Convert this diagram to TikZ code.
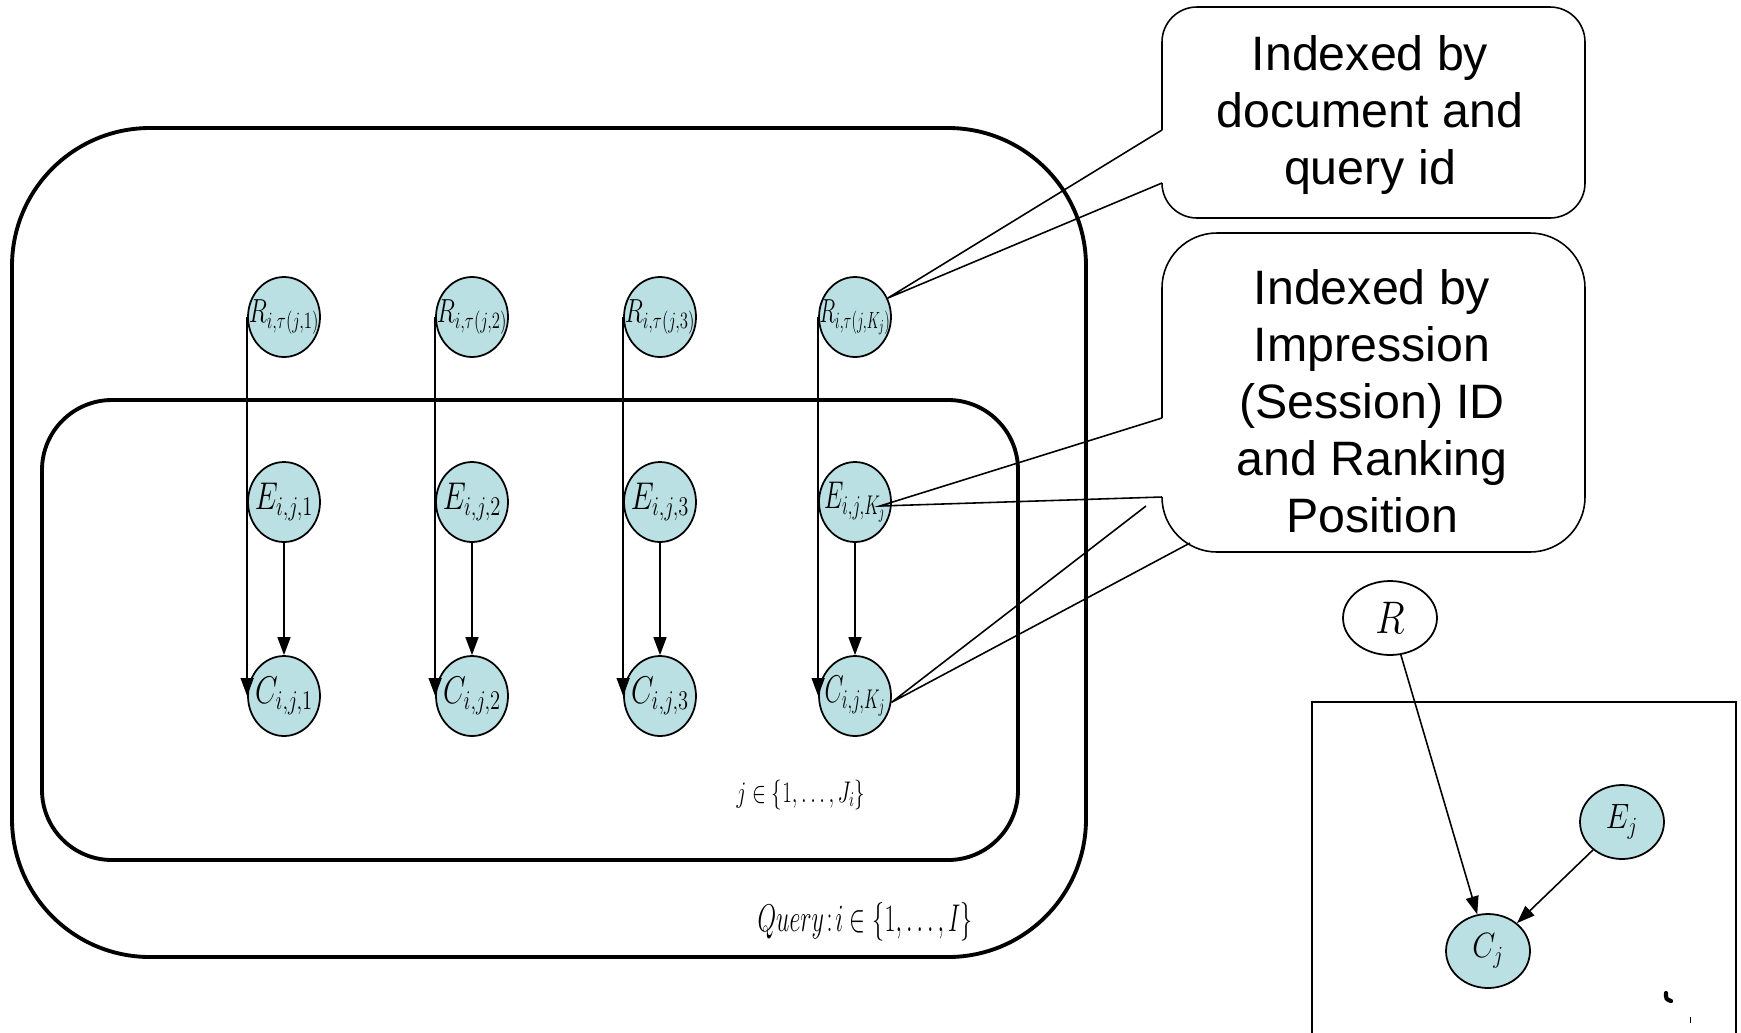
\RequirePackage{fix-cm}
\documentclass[tikz,border=0pt]{standalone}
\usepackage{fontspec,graphicx}
\usetikzlibrary{arrows.meta,shapes.geometric,calc}
\newfontfamily\notefont{Liberation Sans}
\definecolor{Node}{HTML}{BBE0E3}
\tikzset{
 var/.style={ellipse,draw,fill=Node,line width=1pt,inner sep=0pt,minimum width=1.44cm,minimum height=1.6cm},
 small/.style={ellipse,draw,line width=1pt,inner sep=0pt,minimum width=1.68cm,minimum height=1.48cm,font=\fontsize{20}{22}\selectfont},
 plate/.style={draw,line width=2.2pt},
 arr/.style={-{Triangle[length=3.6mm,width=2.6mm]},line width=0.9pt},
 lead/.style={line width=0.9pt},
 note/.style={font={\notefont\fontsize{27.5}{32.5}\selectfont},align=center},
 rlab/.style={font=\fontsize{19}{21}\selectfont},
 elab/.style={font=\fontsize{22}{24}\selectfont},
}
\newcommand{\nar}[2]{\makebox[0pt]{\scalebox{#1}[1]{$#2$}}}
\begin{document}
\begin{tikzpicture}[x=0.02cm,y=-0.02cm]
 \useasboundingbox (0,0) rectangle (1741,1032);
 \draw[plate,rounded corners=2.76cm] (12,128) rectangle (1086,957);
 \draw[plate,rounded corners=1.4cm] (42,400) rectangle (1018,860);
 \foreach \n/\x/\k/\rs/\es in {1/284/1/0.72/0.76,2/472/2/0.72/0.76,3/660/3/0.72/0.76,4/855/K_j/0.62/0.64}{
 \node[var,rlab] (R\n) at (\x,317) {\nar{\rs}{R_{i,\tau(j,\k)}}};
 \node[var,elab] (E\n) at (\x,502) {\nar{\es}{E_{i,j,\k}}};
 \node[var,elab] (C\n) at (\x,696) {\nar{\es}{C_{i,j,\k}}};
 \draw[arr] (R\n.west) -- (C\n.west);
 \draw[arr] (E\n) -- (C\n);}
 \node[font=\fontsize{17}{19}\selectfont] (jset) at (801,795) {\nar{0.7}{j\in\{1,\ldots,J_i\}}};
 \node[font=\fontsize{22}{24}\selectfont] (iset) at (865,922) {\nar{0.62}{Query\!:\!i\in\{1,\ldots,I\}}};
 \coordinate (a1) at (1162,130);
 \coordinate (a2) at (1162,183);
 \draw[lead,rounded corners=0.7cm] (a2) -- (1162,218) -- (1585,218) -- (1585,7) -- (1162,7) -- (a1);
 \draw[lead] (a1) -- (R4.30) -- (a2);
 \node[note] (doc) at (1370,115) {Indexed by\\document and\\query id};
 \coordinate (b1) at (1162,418);
 \coordinate (b2) at (1162,497);
 \coordinate (b3) at (1146,506);
 \coordinate (b4) at (1190,543);
 \draw[lead,rounded corners=1.1cm] (b2) -- (1162,552) -- (1585,552) -- (1585,233) -- (1162,233) -- (b1);
 \draw[lead] (b1) -- ($(E4.east)+(-12,4)$) -- (b2);
 \draw[lead] (b3) -- (C4.-10) -- (b4);
 \node[note] (imp) at (1372,401) {Indexed by\\Impression\\(Session) ID\\and Ranking\\Position};
 \draw[line width=1.2pt] (1312,1040) -- (1312,702) -- (1736,702) -- (1736,1040);
 \node[small,minimum width=1.88cm,font=\fontsize{26}{28}\selectfont] (R) at (1390,618) {\nar{0.85}{R}};
 \node[small,fill=Node] (Ej) at (1622,822) {\nar{0.85}{E_j}};
 \node[small,fill=Node] (Cj) at (1488,951) {\nar{0.85}{C_j}};
 \draw[arr] (R) -- (Cj);
 \draw[arr] (Ej) -- (Cj);
 \draw[line width=2.4pt,line cap=round] (1666,993) .. controls (1666,999) .. (1671,1001);
 \draw[line width=0.5pt] (1690,1017) -- (1690,1023);
\end{tikzpicture}
\end{document}
